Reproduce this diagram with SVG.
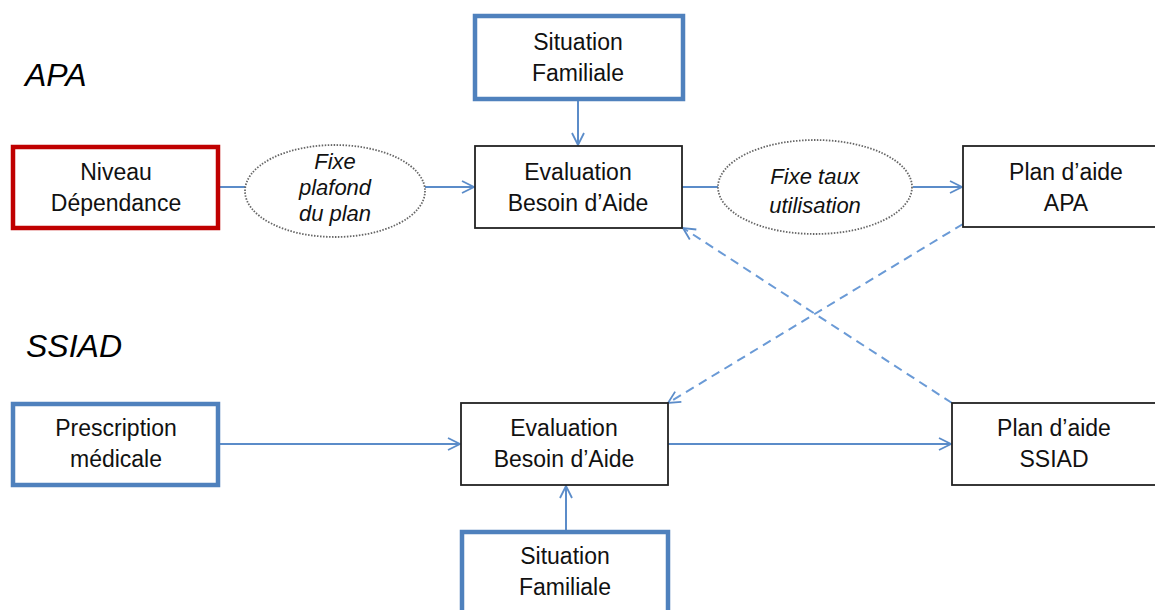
<svg xmlns="http://www.w3.org/2000/svg" width="1155" height="610" viewBox="0 0 1155 610">
<defs>
<style>
.t{font-family:"Liberation Sans",Arial,sans-serif;font-size:23px;fill:#111;text-anchor:middle}
.i{font-family:"Liberation Sans",Arial,sans-serif;font-size:22px;font-style:italic;fill:#111;text-anchor:middle}
.h{font-family:"Liberation Sans",Arial,sans-serif;font-size:32px;font-style:italic;fill:#000}
.blk{fill:#fff;stroke:#222;stroke-width:1.8}
.blue{fill:#fff;stroke:#4f81bd;stroke-width:4.5}
.red{fill:#fff;stroke:#c00000;stroke-width:4.5}
.ell{fill:#fff;stroke:#666;stroke-width:1.8;stroke-dasharray:1.5 1.5}
.c{fill:none;stroke:#5b8cc9;stroke-width:2}
.d{fill:none;stroke:#6a9ad6;stroke-width:2;stroke-dasharray:9 6}
</style>
<marker id="ah" viewBox="0 0 14 14" refX="13" refY="7" markerWidth="14" markerHeight="14" markerUnits="userSpaceOnUse" orient="auto">
<path d="M1,1 L13,7 L1,13" fill="none" stroke="#5b8cc9" stroke-width="1.8"/>
</marker>
</defs>
<rect width="1155" height="610" fill="#fff"/>
<text class="h" x="25" y="86">APA</text>
<text class="h" x="26" y="357">SSIAD</text>
<g id="connectors">
<line class="c" x1="218" y1="187" x2="246" y2="187"/>
<line class="c" x1="425" y1="187" x2="474" y2="187" marker-end="url(#ah)"/>
<line class="c" x1="578" y1="99" x2="578" y2="145" marker-end="url(#ah)"/>
<line class="c" x1="682" y1="187" x2="718" y2="187"/>
<line class="c" x1="913" y1="187" x2="962" y2="187" marker-end="url(#ah)"/>
<line class="c" x1="218" y1="444" x2="460" y2="444" marker-end="url(#ah)"/>
<line class="c" x1="668" y1="444" x2="951" y2="444" marker-end="url(#ah)"/>
<line class="c" x1="566" y1="531" x2="566" y2="486" marker-end="url(#ah)"/>
<line class="d" x1="952" y1="403" x2="683" y2="228" marker-end="url(#ah)"/>
<line class="d" x1="963" y1="224" x2="668" y2="403" marker-end="url(#ah)"/>
</g>
<g id="sitfam1"><rect class="blue" x="475" y="16" width="208" height="83"/><text class="t" x="578" y="50">Situation</text><text class="t" x="578" y="81">Familiale</text></g>
<g id="niveau"><rect class="red" x="13" y="147" width="205" height="81"/><text class="t" x="116" y="180">Niveau</text><text class="t" x="116" y="211">Dépendance</text></g>
<g id="fixe1"><ellipse class="ell" cx="335" cy="191" rx="90" ry="46"/><text class="i" x="335" y="169">Fixe</text><text class="i" x="335" y="195">plafond</text><text class="i" x="335" y="221">du plan</text></g>
<g id="eval1"><rect class="blk" x="475" y="146" width="207" height="82"/><text class="t" x="578" y="180">Evaluation</text><text class="t" x="578" y="211">Besoin d’Aide</text></g>
<g id="fixe2"><ellipse class="ell" cx="815" cy="187" rx="97" ry="47"/><text class="i" x="815" y="184">Fixe taux</text><text class="i" x="815" y="213">utilisation</text></g>
<g id="planapa"><rect class="blk" x="963" y="146" width="200" height="81"/><text class="t" x="1066" y="180">Plan d’aide</text><text class="t" x="1066" y="211">APA</text></g>
<g id="prescription"><rect class="blue" x="13" y="404" width="205" height="81"/><text class="t" x="116" y="436">Prescription</text><text class="t" x="116" y="467">médicale</text></g>
<g id="eval2"><rect class="blk" x="461" y="403" width="207" height="82"/><text class="t" x="564" y="436">Evaluation</text><text class="t" x="564" y="467">Besoin d’Aide</text></g>
<g id="planssiad"><rect class="blk" x="952" y="403" width="210" height="82"/><text class="t" x="1054" y="436">Plan d’aide</text><text class="t" x="1054" y="467">SSIAD</text></g>
<g id="sitfam2"><rect class="blue" x="462" y="532" width="206" height="90"/><text class="t" x="565" y="564">Situation</text><text class="t" x="565" y="595">Familiale</text></g>
</svg>
